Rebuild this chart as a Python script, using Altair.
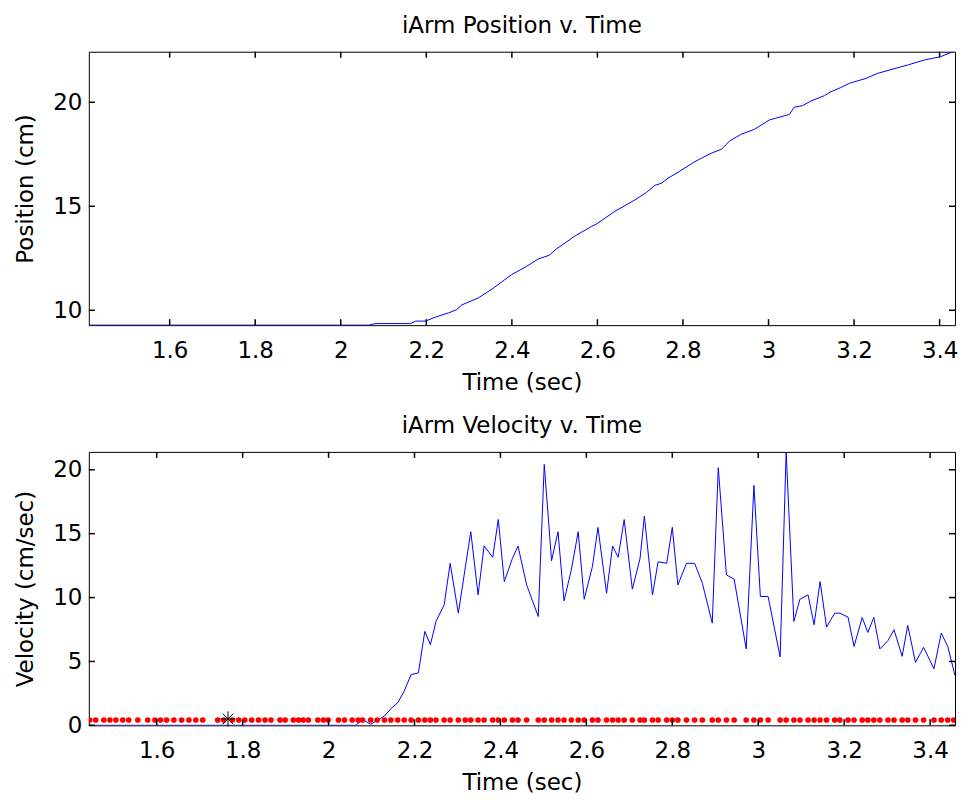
import altair as alt
import pandas as pd

FONT = "DejaVu Sans"

# ---- Position series (top panel) ----
pos_t = [1.411, 2.066, 2.080, 2.163, 2.175, 2.198, 2.221, 2.252, 2.271, 2.283, 2.322,
         2.357, 2.399, 2.431, 2.462, 2.487, 2.505, 2.548, 2.587, 2.598, 2.641, 2.688,
         2.715, 2.734, 2.750, 2.765, 2.789, 2.828, 2.866, 2.890, 2.909, 2.936, 2.967,
         3.002, 3.049, 3.060, 3.080, 3.099, 3.131, 3.146, 3.169, 3.189, 3.228, 3.255,
         3.325, 3.364, 3.402, 3.434]
pos_cm = [9.285, 9.285, 9.36, 9.36, 9.48, 9.48, 9.67, 9.875, 10.03, 10.26, 10.595,
          11.07, 11.71, 12.07, 12.47, 12.64, 12.96, 13.58, 14.04, 14.15, 14.76, 15.31,
          15.67, 16.00, 16.11, 16.35, 16.64, 17.15, 17.55, 17.74, 18.14, 18.46, 18.70,
          19.15, 19.42, 19.76, 19.84, 20.06, 20.32, 20.51, 20.71, 20.91, 21.15, 21.39,
          21.79, 22.03, 22.19, 22.46]

# ---- Velocity series (bottom panel) ----
vel_t = [1.442, 2.064, 2.079, 2.098, 2.130, 2.145, 2.161, 2.176, 2.192, 2.209, 2.224,
         2.237, 2.250, 2.269, 2.283, 2.302, 2.331, 2.348, 2.362, 2.382, 2.395, 2.409,
         2.428, 2.441, 2.461, 2.488, 2.502, 2.519, 2.534, 2.548, 2.565, 2.581, 2.595,
         2.614, 2.627, 2.647, 2.661, 2.674, 2.688, 2.707, 2.725, 2.735, 2.754, 2.767,
         2.787, 2.800, 2.813, 2.833, 2.852, 2.870, 2.893, 2.907, 2.926, 2.944, 2.972,
         2.990, 3.005, 3.023, 3.051, 3.065, 3.083, 3.097, 3.116, 3.130, 3.144, 3.159,
         3.178, 3.190, 3.209, 3.223, 3.242, 3.255, 3.269, 3.283, 3.302, 3.316, 3.335,
         3.348, 3.366, 3.385, 3.409, 3.426, 3.441, 3.458]
vel_cms = [0.0, 0.0, 0.47, 0.08, 0.73, 1.3, 1.77, 2.67, 3.97, 4.1, 7.35,
           6.31, 8.13, 9.43, 12.68, 8.78, 15.15, 10.21, 14.05, 13.15, 16.11, 11.25,
           13.07, 14.03, 10.99, 8.52, 20.42, 12.88, 15.15, 9.74, 12.16, 15.15, 9.87,
           12.42, 15.49, 10.34, 14.03, 13.15, 16.11, 10.65, 13.07, 16.37, 10.21, 12.8,
           12.68, 15.49, 10.99, 12.68, 12.68, 11.12, 8.0, 20.16, 11.77, 11.43, 5.98,
           18.78, 10.08, 10.08, 5.35, 21.4, 8.13, 9.87, 10.21, 7.87, 11.25, 7.69,
           8.78, 8.78, 8.47, 6.18, 8.44, 7.27, 8.44, 5.98, 6.63, 7.48, 5.40,
           7.82, 4.93, 6.10, 4.42, 7.22, 6.18, 3.9]

# ---- Red sample markers ----
dot_t = [1.444, 1.458, 1.477, 1.491, 1.505, 1.521, 1.535, 1.556, 1.579, 1.596,
         1.609, 1.623, 1.640, 1.658, 1.675, 1.691, 1.707, 1.742, 1.756, 1.776,
         1.791, 1.805, 1.821, 1.837, 1.852, 1.866, 1.887, 1.899, 1.918, 1.930,
         1.941, 1.953, 1.975, 1.988, 1.999, 2.023, 2.037, 2.055, 2.069, 2.079,
         2.098, 2.113, 2.130, 2.145, 2.161, 2.176, 2.192, 2.209, 2.224, 2.237,
         2.250, 2.269, 2.283, 2.302, 2.318, 2.331, 2.348, 2.362, 2.382, 2.395,
         2.409, 2.428, 2.441, 2.461, 2.488, 2.502, 2.519, 2.534, 2.548, 2.565,
         2.581, 2.595, 2.614, 2.627, 2.647, 2.661, 2.674, 2.688, 2.707, 2.725,
         2.735, 2.754, 2.767, 2.787, 2.800, 2.813, 2.833, 2.852, 2.870, 2.893,
         2.907, 2.926, 2.944, 2.972, 2.990, 3.005, 3.023, 3.051, 3.065, 3.083,
         3.097, 3.116, 3.130, 3.144, 3.159, 3.178, 3.190, 3.209, 3.223, 3.242,
         3.255, 3.269, 3.283, 3.302, 3.316, 3.335, 3.348, 3.366, 3.385, 3.409,
         3.426, 3.441, 3.455]
dot_level = [0.42] * len(dot_t)

# ---- Asterisk marker ----
star_t = [1.766]
star_v = [0.5]

# ---- Ticks ----
x_ticks = [1.6, 1.8, 2.0, 2.2, 2.4, 2.6, 2.8, 3.0, 3.2, 3.4]
pos_ticks = [10, 15, 20]
vel_ticks = [0, 5, 10, 15, 20]

W, H = 868, 274
TL = 6  # inner tick length


def xe(dom):
    return alt.X("t:Q", scale=alt.Scale(domain=dom, nice=False, zero=False),
                 axis=alt.Axis(values=x_ticks, title="Time (sec)", format="~g"))


def ye(dom, ticks, title):
    return alt.Y("v:Q", scale=alt.Scale(domain=dom, nice=False, zero=False),
                 axis=alt.Axis(values=ticks, title=title))


def inner_ticks(xdom, ydom, yticks, ytitle):
    xt = alt.Chart(pd.DataFrame({"t": x_ticks}))
    yt = alt.Chart(pd.DataFrame({"v": yticks}))
    bottom = xt.mark_rule(color="black", strokeWidth=1.5).encode(
        x=xe(xdom), y=alt.value(H), y2=alt.value(H - TL))
    top = xt.mark_rule(color="black", strokeWidth=1.5).encode(
        x=xe(xdom), y=alt.value(0), y2=alt.value(TL))
    left = yt.mark_rule(color="black", strokeWidth=1.5).encode(
        y=ye(ydom, yticks, ytitle), x=alt.value(0), x2=alt.value(TL))
    right = yt.mark_rule(color="black", strokeWidth=1.5).encode(
        y=ye(ydom, yticks, ytitle), x=alt.value(W), x2=alt.value(W - TL))
    return [bottom, top, left, right]


# Top panel
pos_xdom = [1.411, 3.436]
pos_ydom = [9.285, 22.43]
pos_df = pd.DataFrame({"t": pos_t, "v": pos_cm})
pos_line = alt.Chart(pos_df).mark_line(color="#0000FF", strokeWidth=1, clip=True).encode(
    x=xe(pos_xdom), y=ye(pos_ydom, pos_ticks, "Position (cm)"))
top = alt.layer(pos_line, *inner_ticks(pos_xdom, pos_ydom, pos_ticks, "Position (cm)")).properties(
    width=W, height=H,
    title=alt.TitleParams("iArm Position v. Time", baseline="alphabetic", offset=-5),
)

# Bottom panel
vel_xdom = [1.442, 3.458]
vel_ydom = [0, 21.4]
VT = "Velocity (cm/sec)"
vel_df = pd.DataFrame({"t": vel_t, "v": vel_cms})
dots_df = pd.DataFrame({"t": dot_t, "v": dot_level})
star_df = pd.DataFrame({"t": star_t, "v": star_v})
vel_line = alt.Chart(vel_df).mark_line(color="#0000FF", strokeWidth=1, clip=True).encode(
    x=xe(vel_xdom), y=ye(vel_ydom, vel_ticks, VT))
dots = alt.Chart(dots_df).mark_circle(color="#FF0000", size=32, opacity=1, clip=True).encode(
    x=xe(vel_xdom), y=ye(vel_ydom, vel_ticks, VT))
star = alt.Chart(star_df).mark_point(
    shape="M-1,0L1,0M0,-1L0,1M-0.7,-0.7L0.7,0.7M-0.7,0.7L0.7,-0.7",
    size=230, color="black", strokeWidth=1, filled=False, opacity=1).encode(
    x=xe(vel_xdom), y=ye(vel_ydom, vel_ticks, VT))
bottom = alt.layer(vel_line, dots, star,
                   *inner_ticks(vel_xdom, vel_ydom, vel_ticks, VT)).properties(
    width=W, height=H,
    title=alt.TitleParams("iArm Velocity v. Time", baseline="alphabetic", offset=-5),
)

chart = alt.vconcat(top, bottom, spacing=19).properties(
    padding={"left": 14, "top": 13, "right": 2, "bottom": 2},
    background="white",
).configure_view(
    stroke="black", strokeWidth=1,
).configure_axis(
    labelFont=FONT, titleFont=FONT, labelFontSize=23, titleFontSize=23,
    titleFontWeight="normal", labelColor="black", titleColor="black",
    ticks=False, tickSize=0, domain=False, grid=False,
).configure_axisX(
    labelPadding=14, titlePadding=9,
).configure_axisY(
    labelPadding=7, titlePadding=15,
).configure_title(
    font=FONT, fontSize=23, fontWeight="normal", color="black", anchor="middle",
)

chart.save("out.html", embed_options={"renderer": "svg", "actions": False})
